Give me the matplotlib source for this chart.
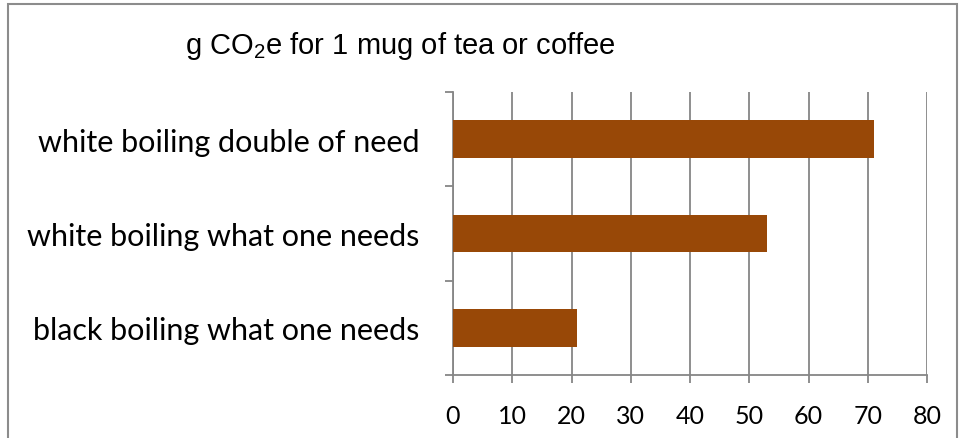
import matplotlib
matplotlib.use("Agg")
import matplotlib.pyplot as plt
from matplotlib.patches import Rectangle

categories = ["black boiling what one needs",
              "white boiling what one needs",
              "white boiling double of need"]
grams_co2e = [21, 53, 71]
x_ticks = [0, 10, 20, 30, 40, 50, 60, 70, 80]

BAR = "#984807"
GREY = "#868686"

plt.rcParams["mathtext.default"] = "regular"

fig = plt.figure(figsize=(9.59, 4.39), dpi=100)
ax = fig.add_axes([453 / 959, 1 - 376 / 439, (927 - 453) / 959, (376 - 93) / 439])

pos = list(range(len(categories)))
ax.barh(pos, grams_co2e, height=0.4, color=BAR, zorder=3)

ax.set_xlim(0, 80)
ax.set_ylim(-0.5, len(categories) - 0.5)
ax.set_xticks(x_ticks)
ax.set_xticklabels([str(t) for t in x_ticks], family="Lato", fontsize=18)
ax.set_yticks(pos)
ax.set_yticklabels(categories, family="Lato", fontsize=22)
ax.set_yticks([p - 0.5 for p in pos] + [pos[-1] + 0.5], minor=True)

ax.tick_params(axis="y", which="major", length=0, pad=24)
ax.tick_params(axis="y", which="minor", length=6, width=1.3, color=GREY, direction="out")
ax.tick_params(axis="x", length=6, width=1.3, color=GREY, direction="out", pad=15)

ax.grid(axis="x", color=GREY, linewidth=1.3, zorder=0)
for side in ("top", "right"):
    ax.spines[side].set_visible(False)
for side in ("left", "bottom"):
    ax.spines[side].set_color(GREY)
    ax.spines[side].set_linewidth(1.3)

fig.text(185 / 959, 1 - 54 / 439, "g CO$_2$e for 1 mug of tea or coffee",
         family="Liberation Sans", fontsize=21, va="baseline", ha="left")

# chart frame
fig.patches.append(Rectangle((8 / 959, -0.05), (957 - 8) / 959, 1 - 5 / 439 + 0.05,
                             transform=fig.transFigure, fill=False,
                             edgecolor="#8c8c8c", linewidth=1.5))

fig.savefig("out.png", dpi=100)
